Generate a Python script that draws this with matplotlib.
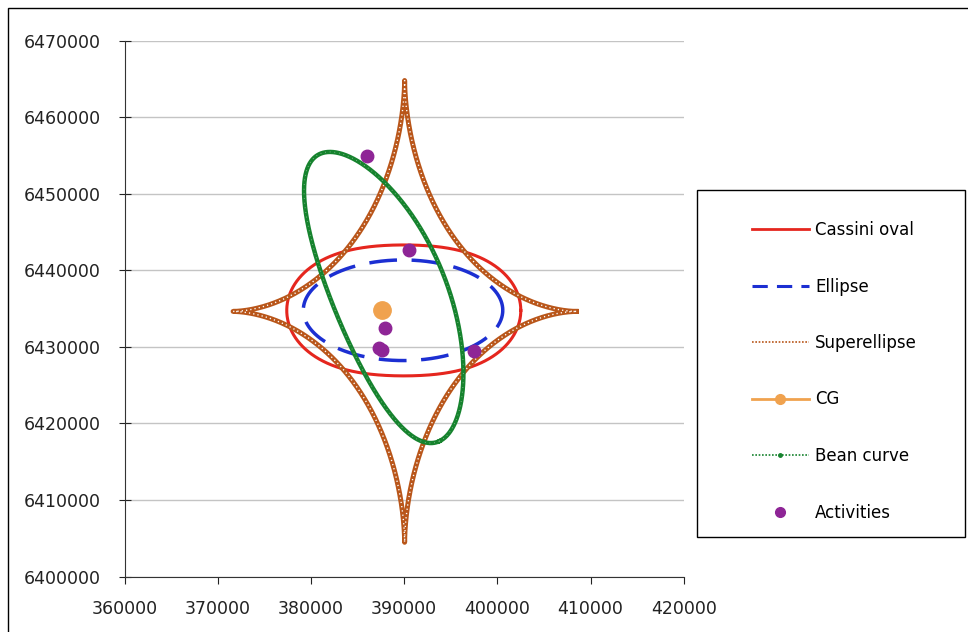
# plot.py - activity space shapes (Excel-style scatter)

import numpy as np
import matplotlib
matplotlib.use("Agg")
import matplotlib.pyplot as plt
from matplotlib.lines import Line2D
from matplotlib.patches import Rectangle

plt.rcParams['font.family'] = ['DejaVu Sans']

# --- data ---
x_ticks = [360000, 370000, 380000, 390000, 400000, 410000, 420000]
y_ticks = [6400000, 6410000, 6420000, 6430000, 6440000, 6450000, 6460000, 6470000]

# shape parameters (centre, semi axes) of each fitted curve
cassini_center = [389960, 6434750]
cassini_a = 10740
cassini_c = 6500

ellipse_center = [389880, 6434770]
ellipse_axes = [10700, 6570]

super_center = [390050, 6434620]
super_axes = [18400, 30150]
super_exp = 0.58

bean_center = [387350, 6436420]
bean_major = [6420, -18750]
bean_minor = [5547, 3133]
bean_bend = [1070, 605]

cg = [387660, 6434820]

act_x = [386050, 390560, 387950, 387300, 387600, 397500]
act_y = [6454920, 6442650, 6432430, 6429800, 6429600, 6429500]

labels = ["Cassini oval", "Ellipse", "Superellipse", "CG", "Bean curve", "Activities"]

# colours
c_red = "#E5261E"
c_blue = "#1C2FD2"
c_brown = "#B9561A"
c_orange = "#F0A24E"
c_green = "#16832E"
c_purple = "#8E2596"

t = np.linspace(0, 2 * np.pi, 2000)

# cassini oval in polar form
cos2 = np.cos(2 * t)
r2 = cassini_c**2 * cos2 + np.sqrt(cassini_c**4 * cos2**2 + cassini_a**4 - cassini_c**4)
r = np.sqrt(r2)
cas_x = cassini_center[0] + r * np.cos(t)
cas_y = cassini_center[1] + r * np.sin(t)

ell_x = ellipse_center[0] + ellipse_axes[0] * np.cos(t)
ell_y = ellipse_center[1] + ellipse_axes[1] * np.sin(t)

p = 2.0 / super_exp
sup_x = super_center[0] + super_axes[0] * np.sign(np.cos(t)) * np.abs(np.cos(t))**p
sup_y = super_center[1] + super_axes[1] * np.sign(np.sin(t)) * np.abs(np.sin(t))**p

bean_x = bean_center[0] + np.cos(t) * bean_major[0] + np.sin(t) * bean_minor[0] + np.sin(t)**2 * bean_bend[0]
bean_y = bean_center[1] + np.cos(t) * bean_major[1] + np.sin(t) * bean_minor[1] + np.sin(t)**2 * bean_bend[1]

fig = plt.figure(figsize=(9.68, 6.32), dpi=100)
ax = fig.add_axes([124.5 / 968, 1 - 576.5 / 632, (683.8 - 124.5) / 968, (576.5 - 40.5) / 632])

ax.plot(cas_x, cas_y, color=c_red, lw=2.2, zorder=3)
ax.plot(ell_x, ell_y, color=c_blue, lw=2.5, dashes=(8, 4.2), zorder=3)
ax.plot(sup_x, sup_y, color=c_brown, lw=3.6, zorder=4)
ax.plot(sup_x, sup_y, color="white", lw=1.0, dashes=(0.9, 2.2), zorder=4)
ax.plot(bean_x, bean_y, color=c_green, lw=3.2, zorder=5)
ax.plot(bean_x, bean_y, color="white", lw=0.7, alpha=0.5, dashes=(0.8, 4), zorder=5)
ax.plot([cg[0]], [cg[1]], "o", color=c_orange, ms=12.5, zorder=6)
ax.plot(act_x, act_y, "o", color=c_purple, ms=9, lw=0, zorder=7)

ax.set_xlim(360000, 420000)
ax.set_ylim(6400000, 6470000)
ax.set_xticks(x_ticks)
ax.set_yticks(y_ticks)
ax.ticklabel_format(useOffset=False, style='plain')
ax.grid(axis='y', color='#C4C4C4', lw=1.0)
ax.set_axisbelow(True)
for s in ['top', 'right']:
    ax.spines[s].set_visible(False)
for s in ['left', 'bottom']:
    ax.spines[s].set_color('#333333')
ax.tick_params(axis='y', direction='inout', length=8, pad=13, labelsize=12.5, colors='#222222')
ax.tick_params(axis='x', direction='out', length=5, pad=12, labelsize=12.5, colors='#222222')

# legend
handles = [
    Line2D([], [], color=c_red, lw=2),
    Line2D([], [], color=c_blue, lw=2.2, dashes=(5, 3)),
    Line2D([], [], color=c_brown, lw=1.2, dashes=(1, 1)),
    Line2D([], [], color=c_orange, lw=2, marker='o', ms=7),
    Line2D([], [], color=c_green, lw=1.2, dashes=(1, 1), marker='o', ms=2.5),
    Line2D([], [], color=c_purple, lw=0, marker='o', ms=7),
]
fig.legend(handles, labels, loc='upper left', bbox_to_anchor=(752 / 968, 1 - 221 / 632),
           frameon=False, fontsize=12, labelspacing=2.31, handlelength=3.4,
           handletextpad=0.4, borderpad=0, borderaxespad=0)
fig.patches.append(Rectangle((697 / 968, 1 - 537 / 632), (965 - 697) / 968, (537 - 190) / 632,
                             transform=fig.transFigure, fill=False, ec='black', lw=1.0))
# chart border (right/bottom run off the picture)
fig.patches.append(Rectangle((8 / 968, -0.05), 1.2, 1.05 - 8 / 632,
                             transform=fig.transFigure, fill=False, ec='black', lw=1.0,
                             clip_on=False))

fig.savefig("out.png", dpi=100)
